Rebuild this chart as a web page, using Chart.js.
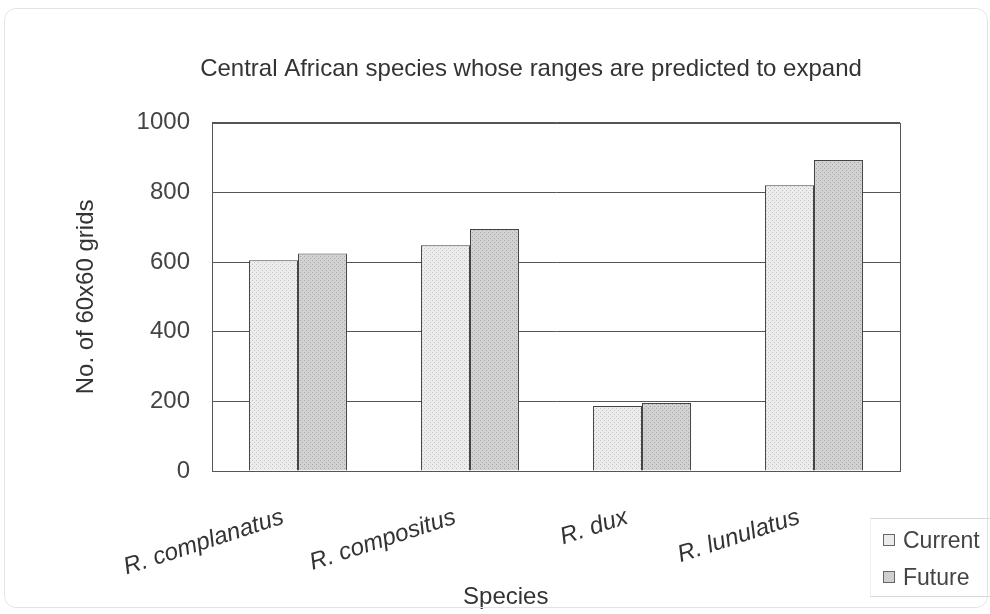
<!DOCTYPE html>
<html>
<head>
<meta charset="utf-8">
<script src="https://cdn.jsdelivr.net/npm/chart.js@4.4.1/dist/chart.umd.min.js"></script>
<style>
  html, body { margin: 0; padding: 0; background: #ffffff; }
  #wrap { position: relative; width: 990px; height: 614px; }
  #frame { position: absolute; left: 4px; top: 8px; width: 984px; height: 600px;
           border: 1px solid #e4e4e4; border-radius: 12px; box-sizing: border-box; pointer-events: none; }
  canvas { position: absolute; left: 0; top: 0; }
  #legend { position: absolute; left: 870px; top: 518px; width: 120px; height: 79px;
            border-top: 1px solid #d8d8d8; border-bottom: 1px solid #d8d8d8; border-left: 1px solid #eeeeee;
            box-sizing: border-box; font-family: "Liberation Sans", Arial, sans-serif; font-size: 23px; color: #444; }
  .item { position: absolute; left: 12px; display: flex; align-items: center; line-height: 26px; }
  .sw { width: 12px; height: 12px; border: 1px solid #666; margin-right: 8px; box-sizing: border-box; }
</style>
</head>
<body>
<div id="wrap">
  <canvas id="c" width="990" height="614"></canvas>
  <div id="frame"></div>
  <div id="legend"></div>
</div>
<script>
const categories = ['R. complanatus', 'R. compositus', 'R. dux', 'R. lunulatus'];
const seriesNames = ['Current', 'Future'];
const currentValues = [605, 648, 187, 821];
const futureValues = [625, 695, 195, 893];
const yMin = 0, yMax = 1000, yStep = 200;
const xAxisTitle = 'Species';
const yAxisTitle = 'No. of 60x60 grids';

// Stippled fill, like the dotted shading of the bars
function stipple(base, dot) {
  const p = document.createElement('canvas');
  p.width = 4; p.height = 4;
  const g = p.getContext('2d');
  g.fillStyle = base; g.fillRect(0, 0, 4, 4);
  g.fillStyle = dot;
  g.fillRect(0, 0, 1, 1); g.fillRect(2, 2, 1, 1);
  return g.createPattern(p, 'repeat');
}
const ctx = document.getElementById('c').getContext('2d');
const fills = [stipple('#ececec', '#c4c4c4'), stipple('#d2d2d2', '#a8a8a8')];
const swatchCss = ['#ebebeb', '#cfcfcf'];
const font = '"Liberation Sans", Arial, sans-serif';

// Box round the plotting area
const plotFrame = {
  id: 'plotFrame',
  beforeDatasetsDraw(chart) {
    const a = chart.chartArea, c = chart.ctx;
    c.save();
    c.strokeStyle = '#555';
    c.lineWidth = 1;
    c.strokeRect(Math.round(a.left) + 0.5, Math.round(a.top) + 0.5,
                 Math.round(a.right - a.left), Math.round(a.bottom - a.top));
    c.restore();
  }
};

// Category-axis title, set a little left of the plot centre and near the bottom edge
const xTitle = {
  id: 'xTitle',
  afterDraw(chart) {
    const a = chart.chartArea, c = chart.ctx;
    c.save();
    c.font = '24px ' + font;
    c.fillStyle = '#333';
    c.textAlign = 'center';
    c.textBaseline = 'middle';
    c.fillText(xAxisTitle, a.left + (a.right - a.left) * 0.427, chart.height - 17);
    c.restore();
  }
};

const chart = new Chart(ctx, {
  type: 'bar',
  data: {
    labels: categories,
    datasets: [
      { label: seriesNames[0], data: currentValues, backgroundColor: fills[0], borderColor: '#444', borderWidth: 1 },
      { label: seriesNames[1], data: futureValues, backgroundColor: fills[1], borderColor: '#444', borderWidth: 1 }
    ]
  },
  options: {
    responsive: false,
    animation: false,
    devicePixelRatio: 1,
    layout: { padding: { left: 72, right: 0, top: 0, bottom: 0 } },
    datasets: { bar: { categoryPercentage: 0.57, barPercentage: 1.0 } },
    plugins: {
      legend: { display: false },
      tooltip: { enabled: false },
      title: {
        display: true,
        text: 'Central African species whose ranges are predicted to expand',
        color: '#333',
        font: { family: font, size: 24, weight: 'normal' },
        padding: { top: 55, bottom: 39 }
      }
    },
    scales: {
      x: {
        grid: { display: false, drawTicks: false },
        border: { color: '#555' },
        ticks: {
          color: '#333', minRotation: 18, maxRotation: 18, padding: 32, labelOffset: -15,
          font: { family: font, size: 24, style: 'italic' }
        },
        afterFit(s) { s.height = 143; }
      },
      y: {
        min: yMin, max: yMax,
        grid: { color: '#555', drawTicks: false },
        border: { color: '#555' },
        ticks: {
          stepSize: yStep, color: '#444', padding: 22,
          font: { family: font, size: 24 },
          callback: (v) => String(v)
        },
        title: {
          display: true, text: yAxisTitle, color: '#333',
          font: { family: font, size: 24 }, padding: { top: 0, bottom: 0 }
        },
        afterFit(s) { s.width = 140; }
      },
      // empty strip on the right that leaves room for the legend
      yRight: {
        position: 'right', display: true, min: yMin, max: yMax,
        grid: { display: false, drawTicks: false },
        border: { display: false },
        ticks: { display: false },
        afterFit(s) { s.width = 90; }
      }
    }
  },
  plugins: [plotFrame, xTitle]
});

// Legend entries built from the datasets
const lg = document.getElementById('legend');
chart.data.datasets.forEach((ds, i) => {
  const it = document.createElement('div');
  it.className = 'item';
  it.style.top = (i === 0 ? 8 : 45) + 'px';
  const sw = document.createElement('span');
  sw.className = 'sw';
  sw.style.background = swatchCss[i];
  const tx = document.createElement('span');
  tx.textContent = ds.label;
  it.appendChild(sw); it.appendChild(tx);
  lg.appendChild(it);
});
</script>
</body>
</html>
